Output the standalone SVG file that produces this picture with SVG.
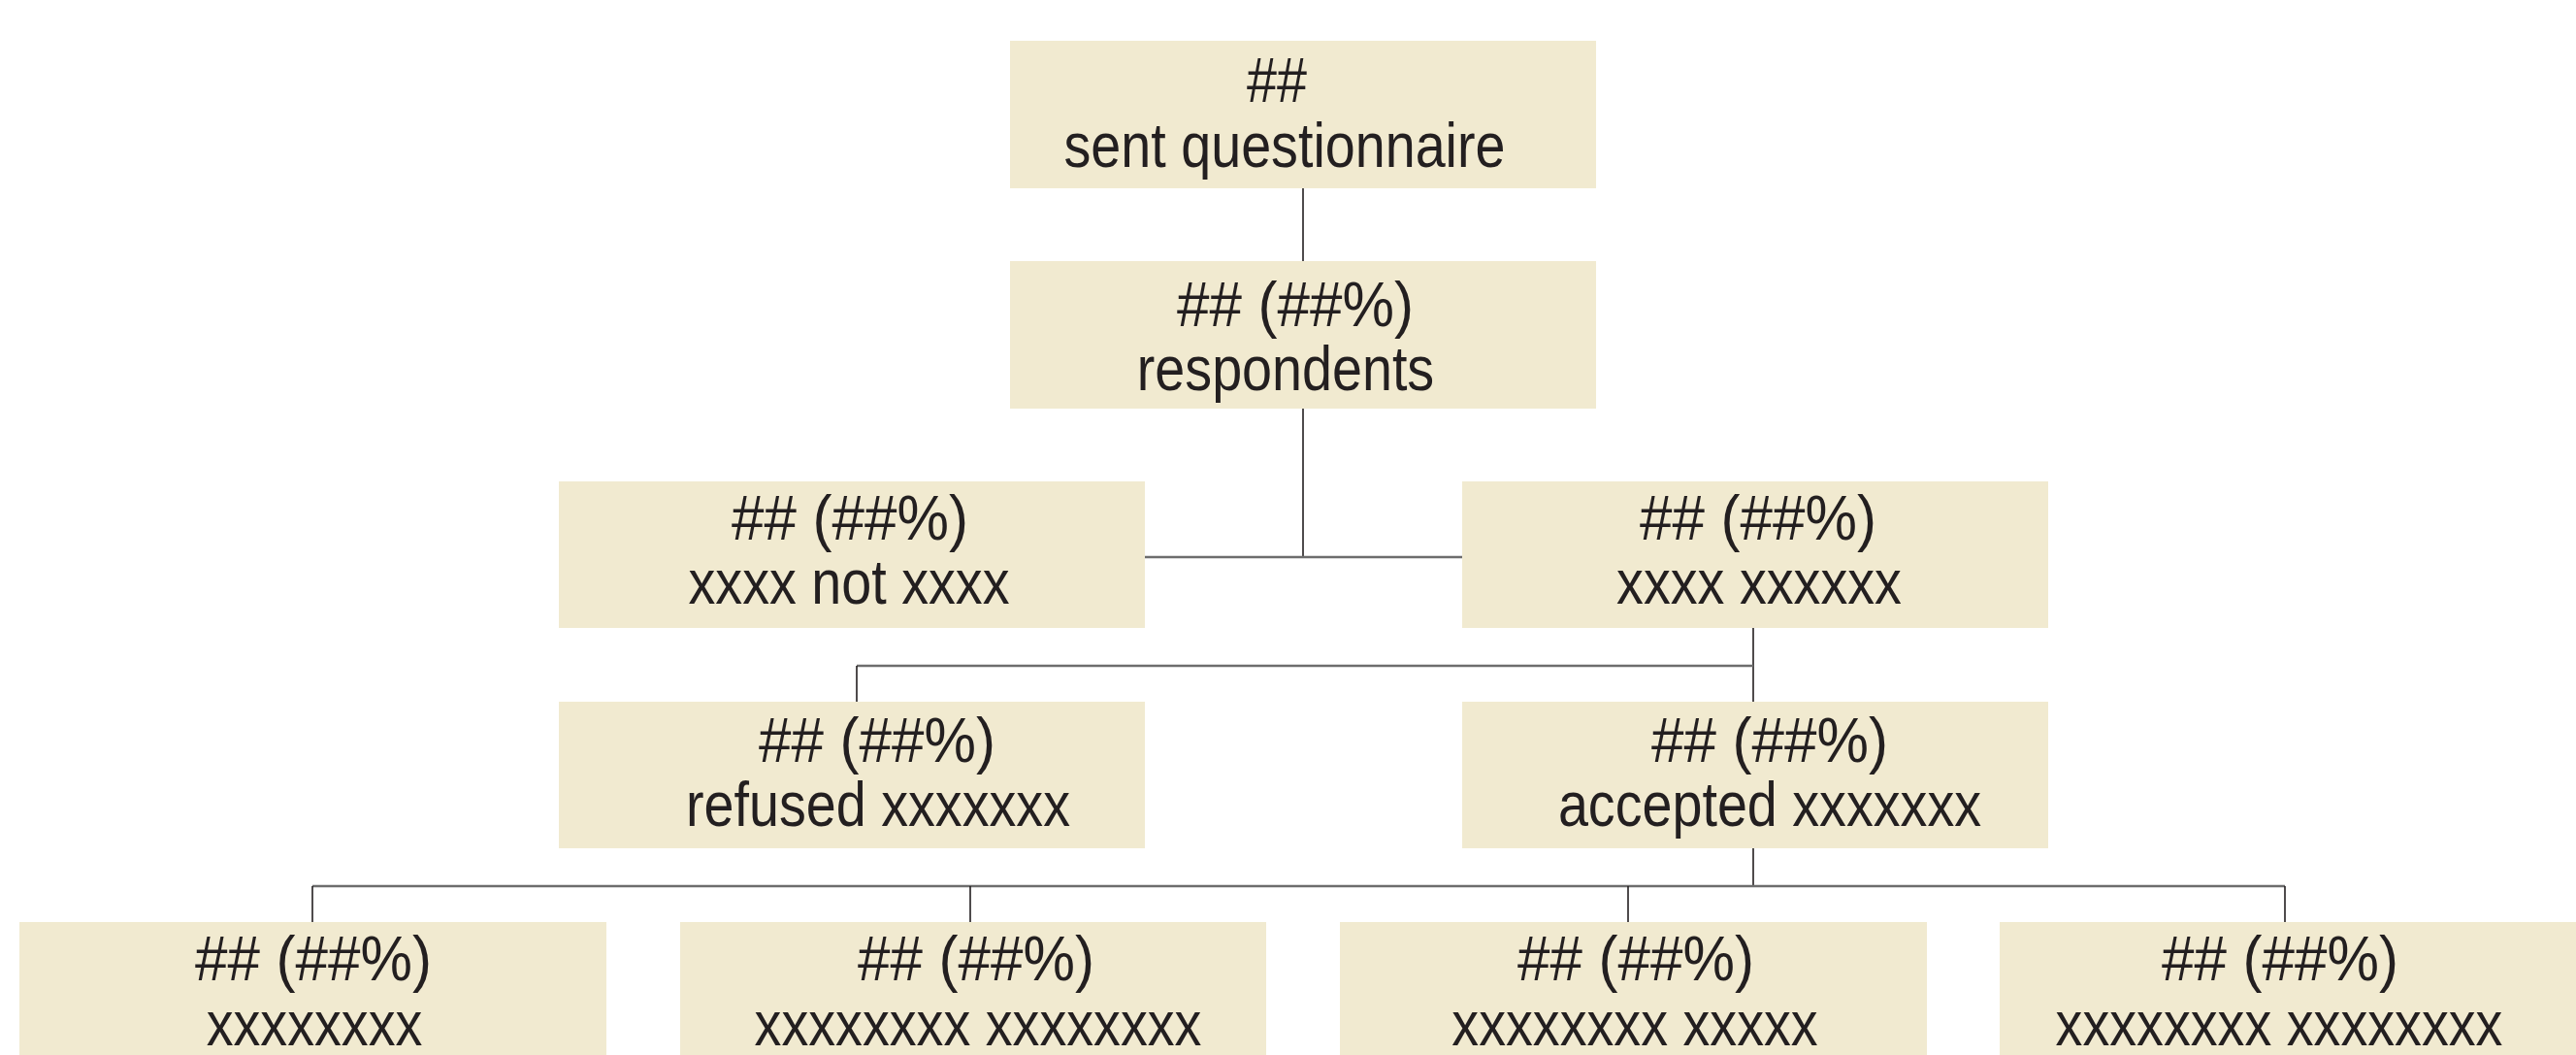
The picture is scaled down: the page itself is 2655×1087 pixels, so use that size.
<svg xmlns="http://www.w3.org/2000/svg" width="2655" height="1087" viewBox="0 0 2655 1087">
<style>
.box{fill:#f1ead0}
.t{font-family:"Liberation Sans",Arial,sans-serif;font-size:64px;fill:#231f20;text-anchor:middle}
.v{stroke:#231f20;stroke-width:1.6;fill:none}
.h{stroke:#6d6d6d;stroke-width:2.6;fill:none}
</style>
<rect width="2655" height="1087" fill="#ffffff"/>
<g id="connectors">
<line class="v" x1="1343" y1="193" x2="1343" y2="269"/>
<line class="v" x1="1343" y1="421" x2="1343" y2="574"/>
<line class="h" x1="1180" y1="574" x2="1507" y2="574"/>
<line class="v" x1="1807" y1="647" x2="1807" y2="723"/>
<line class="h" x1="883" y1="686" x2="1807" y2="686"/>
<line class="v" x1="883" y1="686" x2="883" y2="723"/>
<line class="v" x1="1807" y1="874" x2="1807" y2="913"/>
<line class="h" x1="322" y1="913" x2="2355" y2="913"/>
<line class="v" x1="322" y1="913" x2="322" y2="950"/>
<line class="v" x1="1000" y1="913" x2="1000" y2="950"/>
<line class="v" x1="1678" y1="913" x2="1678" y2="950"/>
<line class="v" x1="2355" y1="913" x2="2355" y2="950"/>
</g>
<g id="n-sent">
<rect class="box" x="1041" y="42" width="604" height="152"/>
<text class="t" transform="translate(1316 105) scale(0.87 1)">##</text>
<text class="t" transform="translate(1324 172) scale(0.87 1)">sent questionnaire</text>
</g>
<g id="n-respondents">
<rect class="box" x="1041" y="269" width="604" height="152"/>
<text class="t" transform="translate(1335 336) scale(0.94 1)">## (##%)</text>
<text class="t" transform="translate(1325 402) scale(0.87 1)">respondents</text>
</g>
<g id="n-not">
<rect class="box" x="576" y="496" width="604" height="151"/>
<text class="t" transform="translate(876 556) scale(0.94 1)">## (##%)</text>
<text class="t" transform="translate(875 622) scale(0.87 1)">xxxx not xxxx</text>
</g>
<g id="n-yes">
<rect class="box" x="1507" y="496" width="604" height="151"/>
<text class="t" transform="translate(1812 556) scale(0.94 1)">## (##%)</text>
<text class="t" transform="translate(1813 622) scale(0.87 1)">xxxx xxxxxx</text>
</g>
<g id="n-refused">
<rect class="box" x="576" y="723" width="604" height="151"/>
<text class="t" transform="translate(904 785) scale(0.94 1)">## (##%)</text>
<text class="t" transform="translate(905 851) scale(0.87 1)">refused xxxxxxx</text>
</g>
<g id="n-accepted">
<rect class="box" x="1507" y="723" width="604" height="151"/>
<text class="t" transform="translate(1824 785) scale(0.94 1)">## (##%)</text>
<text class="t" transform="translate(1824 851) scale(0.87 1)">accepted xxxxxxx</text>
</g>
<g id="n-c1">
<rect class="box" x="20" y="950" width="605" height="151"/>
<text class="t" transform="translate(323 1010) scale(0.94 1)">## (##%)</text>
<text class="t" transform="translate(324 1077) scale(0.87 1)">xxxxxxxx</text>
</g>
<g id="n-c2">
<rect class="box" x="701" y="950" width="604" height="151"/>
<text class="t" transform="translate(1006 1010) scale(0.94 1)">## (##%)</text>
<text class="t" transform="translate(1008 1077) scale(0.87 1)">xxxxxxxx xxxxxxxx</text>
</g>
<g id="n-c3">
<rect class="box" x="1381" y="950" width="605" height="151"/>
<text class="t" transform="translate(1686 1010) scale(0.94 1)">## (##%)</text>
<text class="t" transform="translate(1685 1077) scale(0.87 1)">xxxxxxxx xxxxx</text>
</g>
<g id="n-c4">
<rect class="box" x="2061" y="950" width="604" height="151"/>
<text class="t" transform="translate(2350 1010) scale(0.94 1)">## (##%)</text>
<text class="t" transform="translate(2349 1077) scale(0.87 1)">xxxxxxxx xxxxxxxx</text>
</g>
</svg>
